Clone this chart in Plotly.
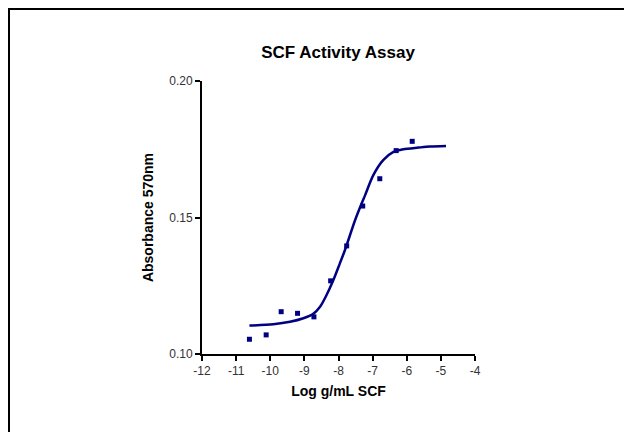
import plotly.graph_objects as go

# Measured data points (log g/mL SCF, absorbance 570nm)
log_conc = [-10.61, -10.12, -9.68, -9.20, -8.72, -8.23, -7.76, -7.29, -6.79, -6.31, -5.84]
absorbance = [0.1054, 0.1070, 0.1155, 0.1149, 0.1136, 0.1268, 0.1396, 0.1542, 0.1642, 0.1745, 0.1779]

# Fitted curve
fit_x = [-10.61, -9.91, -9.42, -9.03, -8.74, -8.54, -8.35, -8.15, -7.96, -7.81,
         -7.52, -7.32, -7.22, -6.98, -6.69, -6.39, -6.10, -5.66, -5.32, -4.85]
fit_y = [0.1104, 0.1109, 0.1118, 0.1131, 0.1147, 0.1173, 0.1216, 0.1271, 0.1332, 0.1381,
         0.1488, 0.1552, 0.1582, 0.1655, 0.1710, 0.1740, 0.1750, 0.1756, 0.1760, 0.1762]

x_ticks = [-12, -11, -10, -9, -8, -7, -6, -5, -4]
y_ticks = [0.10, 0.15, 0.20]

navy = "rgb(0,0,128)"

fig = go.Figure()
fig.add_trace(go.Scatter(x=fit_x, y=fit_y, mode="lines",
                         line=dict(color=navy, width=2.5, shape="spline", smoothing=0.8),
                         hoverinfo="skip", showlegend=False))
fig.add_trace(go.Scatter(x=log_conc, y=absorbance, mode="markers",
                         marker=dict(symbol="square", size=5, color=navy),
                         showlegend=False))

font_family = "Liberation Sans, Arial, sans-serif"

# page body has an 8px offset; margins are compensated so the plot area sits at 202..475 x 81..354
L, T, W = 194, 73, 273
fig.update_layout(
    width=632, height=432,
    margin=dict(l=L, r=632 - L - W, t=T, b=432 - T - W),
    paper_bgcolor="white", plot_bgcolor="white",
    font=dict(family=font_family, color="black"),
    title=dict(text="<b>SCF Activity Assay</b>", x=330 / 632, xanchor="center",
               y=1 - 44 / 432, yanchor="middle", font=dict(size=17, color="black")),
    xaxis=dict(range=[-12, -4], tickvals=x_ticks, ticktext=[str(v) for v in x_ticks],
               showline=True, linecolor="black", linewidth=2, showgrid=False, zeroline=False,
               ticks="outside", ticklen=5, tickwidth=2, tickcolor="black",
               tickfont=dict(size=12, color="#333"),
               title=dict(text="<b>Log g/mL SCF</b>", font=dict(size=14), standoff=9)),
    yaxis=dict(range=[0.10, 0.20], tickvals=y_ticks, ticktext=["%.2f" % v for v in y_ticks],
               showline=True, linecolor="black", linewidth=2, showgrid=False, zeroline=False,
               ticks="outside", ticklen=5, tickwidth=2, tickcolor="black",
               tickfont=dict(size=12, color="#333"),
               title=dict(text="<b>Absorbance 570nm</b>", font=dict(size=14), standoff=12)),
    shapes=[dict(type="rect", xref="paper", yref="paper",
                 x0=(9 - 202) / 273, x1=(650 - 202) / 273,
                 y0=(354 - 450) / 273, y1=(354 - 9) / 273,
                 line=dict(color="black", width=2), fillcolor="rgba(0,0,0,0)", layer="below")],
)

fig.write_html("out.html")
